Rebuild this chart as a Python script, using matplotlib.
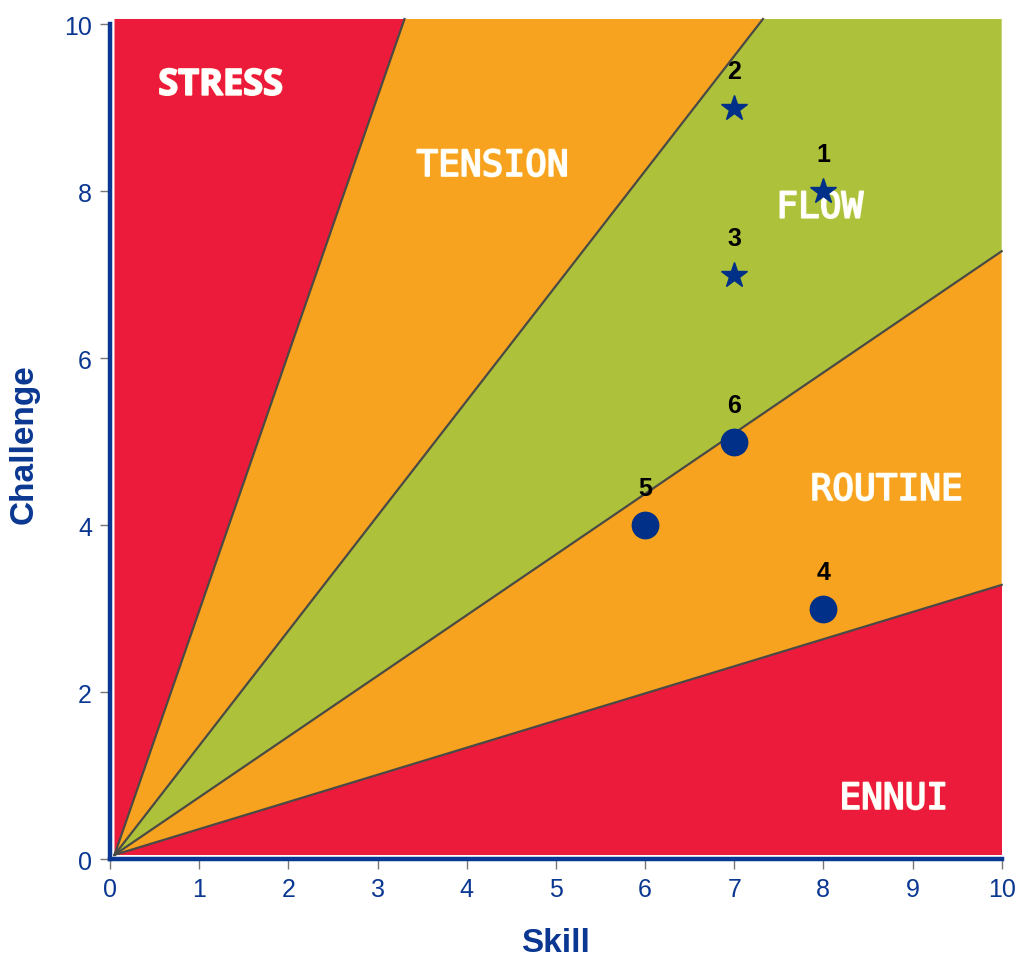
import numpy as np
import matplotlib.pyplot as plt
import matplotlib.patheffects as pe

# zones: boundary angles in degrees from the origin, and colours
zone_angles = [0, 18, 36, 54, 72, 90]
zone_colors = ['#ec1b3b', '#f8a31f', '#adc13b', '#f8a31f', '#ec1b3b']
zone_names = ['ENNUI', 'ROUTINE', 'FLOW', 'TENSION', 'STRESS']
zone_text_x = [8.79, 8.71, 7.96, 4.29, 1.24]
zone_text_y = [0.72, 4.42, 7.80, 8.30, 9.26]

# people
labels = ['1', '2', '3', '4', '5', '6']
skill = [8, 7, 7, 8, 6, 7]
challenge = [8, 9, 7, 3, 4, 5]
markers = ['*', '*', '*', 'o', 'o', 'o']

blue = '#0a3791'

fig = plt.figure(figsize=(10.19, 9.62), dpi=100)
ax = fig.add_axes([0.108, 0.106, 0.875, 0.868])
ax.set_xlim(0, 10)
ax.set_ylim(0, 10)

# background picture area
x0, y0 = 0.05, 0.05
xr, yt = 10.0, 10.06


def ray_end(deg):
    t = np.radians(deg)
    c, s = np.cos(t), np.sin(t)
    d = []
    if c > 1e-9:
        d.append((xr - x0) / c)
    if s > 1e-9:
        d.append((yt - y0) / s)
    k = min(d)
    return (x0 + k * c, y0 + k * s)


corner = np.degrees(np.arctan2(yt - y0, xr - x0))
for i in range(5):
    a1, a2 = zone_angles[i], zone_angles[i + 1]
    pts = [(x0, y0), ray_end(a1)]
    if a1 < corner < a2:
        pts.append((xr, yt))
    pts.append(ray_end(a2))
    ax.fill([p[0] for p in pts], [p[1] for p in pts], color=zone_colors[i],
            lw=0, zorder=1, clip_on=False)

for a in zone_angles[1:-1]:
    ex, ey = ray_end(a)
    ax.plot([x0, ex], [y0, ey], color='#4a4a45', lw=1.6, zorder=2,
            clip_on=False)

for name, tx, ty in zip(zone_names, zone_text_x, zone_text_y):
    if name == 'STRESS':
        fam, fs, fw = 'Open Sans', 26, 'bold'
    else:
        fam, fs, fw = 'DejaVu Sans Mono', 26, 'normal'
    ax.text(tx, ty, name, color='white', fontsize=fs, fontweight=fw,
            family=fam, ha='center', va='center', zorder=3,
            path_effects=[pe.withStroke(linewidth=1.3, foreground='#fffbe8')])

for lab, sx, cy, m in zip(labels, skill, challenge, markers):
    ax.plot(sx, cy, marker=m, color='#003087', markersize=19,
            linestyle='none', zorder=5, clip_on=False)
    ax.text(sx, cy + 0.44, lab, color='black', fontsize=18, fontweight='bold',
            family='Liberation Sans', ha='center', va='center', zorder=5)

ax.spines['top'].set_visible(False)
ax.spines['right'].set_visible(False)
for s in ['left', 'bottom']:
    ax.spines[s].set_color(blue)
    ax.spines[s].set_linewidth(3.2)
    ax.spines[s].set_zorder(6)
ax.set_xticks(range(0, 11))
ax.set_yticks(range(0, 11, 2))
ax.tick_params(colors='#777777', length=7, width=1, labelsize=18,
               labelcolor=blue, pad=6)
for t in ax.get_xticklabels() + ax.get_yticklabels():
    t.set_family('Liberation Sans')

fig.text(556 / 1019, 0.003, 'Skill', fontsize=24,
         fontweight='bold', color=blue, family='Liberation Sans',
         ha='center', va='bottom')
fig.text(24 / 1019, (962 - 444) / 962, 'Challenge', fontsize=24,
         fontweight='bold', color=blue, family='Liberation Sans',
         ha='center', va='center', rotation=90)

fig.savefig('out.png', dpi=100)
